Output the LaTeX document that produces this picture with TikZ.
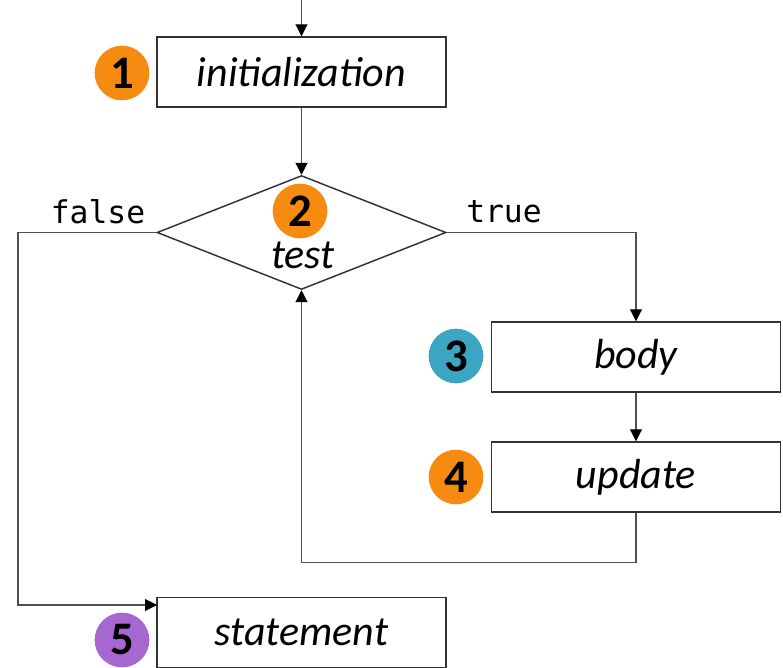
\documentclass[tikz,border=0pt]{standalone}
\usepackage{fontspec}
\setmainfont{Carlito}
\newfontfamily\codefont{DejaVu Sans Mono}
\usetikzlibrary{arrows.meta,shapes.geometric}
\definecolor{numorange}{HTML}{F68B12}
\definecolor{numteal}{HTML}{3CA6C2}
\definecolor{numpurple}{HTML}{A668D0}
\definecolor{edgegrey}{HTML}{505050}
\definecolor{boxgrey}{HTML}{333333}
\tikzset{
  px/.style={x=0.75pt,y=-0.75pt},
  stepbox/.style={draw=boxgrey,line width=1.1pt,minimum width=216.75pt,minimum height=52.5pt,inner sep=0pt,
    font=\fontsize{31.5}{34}\selectfont\itshape},
  decision/.style={draw=boxgrey,line width=1.1pt,diamond,minimum width=216.75pt,minimum height=85.5pt,inner sep=0pt},
  badge/.style={circle,minimum size=41pt,inner sep=0pt,font=\fontsize{35}{38}\selectfont\bfseries},
  flow/.style={draw=edgegrey,line width=0.8pt,-{Triangle[length=9pt,width=9pt,color=black]}},
  lbl/.style={font=\codefont\fontsize{23.5}{26}\selectfont,inner sep=0pt}
}
\begin{document}
\begin{tikzpicture}[px]
\useasboundingbox (0,0) rectangle (783,668);
\node[stepbox] (init) at (301.5,72) {initialization};
\node[decision] (test) at (301.5,232.5) {};
\node[font=\fontsize{31.5}{34}\selectfont\itshape,inner sep=0pt] (testlbl) at (303,255) {test};
\node[stepbox] (body) at (636,357) {body};
\node[stepbox] (update) at (636,477) {update};
\node[stepbox] (stmt) at (301.5,632.5) {statement};
\node[badge,fill=numorange] (n1) at (122,73) {1};
\node[badge,fill=numorange] (n2) at (300,211) {2};
\node[badge,fill=numteal] (n3) at (456,356) {3};
\node[badge,fill=numorange] (n4) at (456,477) {4};
\node[badge,fill=numpurple] (n5) at (122,640) {5};
\node[lbl] (lfalse) at (98,212) {false};
\node[lbl] (ltrue) at (504,212) {true};
\coordinate (start) at (301.5,0);
\coordinate (fcorner) at (18,232.5);
\coordinate (stmtin) at (157,605);
\draw[flow] (start) -- (init.north);
\draw[flow] (init.south) -- (test.north);
\draw[flow] (test.west) -- (fcorner) |- (stmtin);
\draw[flow] (test.east) -| (body.north);
\draw[flow] (body.south) -- (update.north);
\draw[flow] (update.south) -- ++(0,50) -| (test.south);
\end{tikzpicture}
\end{document}
